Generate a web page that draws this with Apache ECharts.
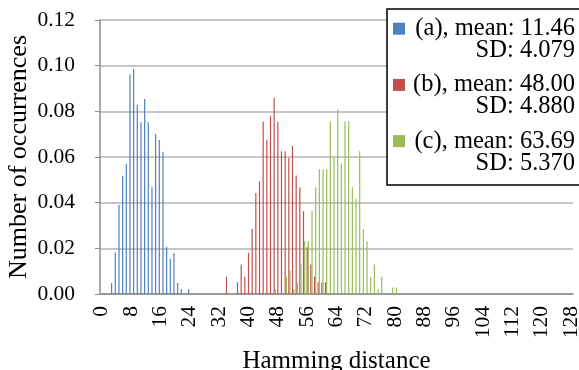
<!DOCTYPE html>
<html>
<head>
<meta charset="utf-8">
<script src="https://cdn.jsdelivr.net/npm/echarts@6/dist/echarts.min.js"></script>
<style>
	html, body { margin: 0; padding: 0; background: #fff; }
	#charts { width: 579px; height: 370px; }
</style>
</head>
<body>
<div id="charts"></div>
<script>
// hamming distance 0..128
var distances = [];
for (var d = 0; d <= 128; d++) distances.push(String(d));

// (a)
var aDist = [3, 4, 5, 6, 7, 8, 9, 10, 11, 12, 13, 14, 15, 16, 17, 18, 19, 20, 21, 22, 24];
var aFreq = [0.0048, 0.0182, 0.039, 0.0518, 0.0569, 0.0961, 0.0985, 0.0829, 0.0752, 0.0854, 0.0752,
	0.0467, 0.0701, 0.0674, 0.0623, 0.0207, 0.0153, 0.018, 0.0048, 0.0022, 0.0022];
// (b)
var bDist = [34, 37, 38, 39, 40, 41, 42, 43, 44, 45, 46, 47, 48, 49, 50, 51, 52, 53, 54, 55, 56, 57, 58, 59, 60, 61];
var bFreq = [0.0076, 0.0051, 0.0129, 0.0076, 0.018, 0.0285, 0.0442, 0.0493, 0.0756, 0.0676, 0.078, 0.0859,
	0.0753, 0.0625, 0.0625, 0.0597, 0.0648, 0.0519, 0.0468, 0.0363, 0.0205, 0.0129, 0.0076, 0.0051, 0.0051, 0.0051];
// (c)
var cDist = [47, 50, 51, 52, 53, 54, 55, 56, 57, 58, 59, 60, 61, 62, 63, 64, 65, 66, 67, 68, 69, 70, 71, 72,
	73, 74, 75, 76, 79, 80];
var cFreq = [0.0022, 0.0076, 0.0102, 0.0022, 0.0051, 0.0129, 0.0231, 0.0231, 0.0363, 0.0468, 0.0546, 0.0546,
	0.0546, 0.0756, 0.0597, 0.0808, 0.0571, 0.0756, 0.0756, 0.0468, 0.0417, 0.0625, 0.0285, 0.0231, 0.0076,
	0.0129, 0.0022, 0.0076, 0.0028, 0.0028];

var seriesNames = ['(a), mean: 11.46', '(b), mean: 48.00', '(c), mean: 63.69'];
var seriesSD = ['SD: 4.079', 'SD: 4.880', 'SD: 5.370'];
var seriesColors = ['#4F81BD', '#C0504D', '#9BBB59'];

var FONT = 'Liberation Serif';

var Histogram = {

	init: function () {
		this.chart = echarts.init(document.getElementById('charts'));
		this.render();
	},

	// turn the sparse lists into one value per distance
	toFull: function (dist, freq) {
		var out = [];
		for (var i = 0; i < distances.length; i++) out.push(0);
		for (var j = 0; j < dist.length; j++) out[dist[j]] = freq[j];
		return out;
	},

	// legend box drawn by hand (marker sits on the first line)
	legendGraphic: function () {
		var items = [{
			type: 'rect',
			shape: { x: 387, y: 9, width: 200, height: 176 },
			style: { fill: '#fff', stroke: '#000', lineWidth: 1.5 },
			z: 10
		}];
		for (var i = 0; i < seriesNames.length; i++) {
			var top = 22.7 + i * 56.2;
			items.push({
				type: 'rect',
				shape: { x: 393, y: top, width: 12, height: 12 },
				style: { fill: seriesColors[i] },
				z: 11
			});
			items.push({
				type: 'text',
				x: 575,
				y: top - 5,
				style: {
					text: seriesNames[i] + '\n' + seriesSD[i],
					textAlign: 'right',
					textVerticalAlign: 'top',
					font: '24.5px "' + FONT + '"',
					lineHeight: 22,
					fill: '#000'
				},
				z: 11
			});
		}
		return items;
	},

	render: function () {
		var data = [this.toFull(aDist, aFreq), this.toFull(bDist, bFreq), this.toFull(cDist, cFreq)];
		var series = [];
		for (var i = 0; i < data.length; i++) {
			series.push({
				name: seriesNames[i],
				type: 'bar',
				data: data[i],
				barWidth: 1.2,
				barGap: '0%',
				itemStyle: { color: seriesColors[i] },
				animation: false
			});
		}

		var option = {
			animation: false,
			grid: { left: 100, top: 20, width: 473, height: 274, outerBoundsMode: 'none', containLabel: false },
			xAxis: {
				type: 'category',
				data: distances,
				name: 'Hamming distance',
				nameLocation: 'middle',
				nameGap: 55,
				nameTextStyle: { fontFamily: FONT, fontSize: 25, color: '#000' },
				axisLine: { lineStyle: { color: '#8c8c8c', width: 1.5 } },
				axisTick: { interval: 0, length: 4, lineStyle: { color: '#8c8c8c' } },
				axisLabel: {
					interval: 7,
					rotate: 90,
					margin: 12,
					showMinLabel: true,
					showMaxLabel: true,
					hideOverlap: false,
					fontFamily: FONT,
					fontSize: 21.5,
					color: '#000'
				}
			},
			yAxis: {
				type: 'value',
				min: 0,
				max: 0.12,
				interval: 0.02,
				name: 'Number of occurrences',
				nameLocation: 'middle',
				nameGap: 68,
				nameMoveOverlap: false,
				nameTextStyle: { fontFamily: FONT, fontSize: 26, color: '#000' },
				axisLine: { show: true, lineStyle: { color: '#8c8c8c', width: 1.5 } },
				axisTick: { show: true, length: 5, lineStyle: { color: '#8c8c8c' } },
				axisLabel: {
					margin: 25,
					fontFamily: FONT,
					fontSize: 21.5,
					color: '#000',
					formatter: function (v) { return v.toFixed(2); }
				},
				splitLine: { lineStyle: { color: '#b4b4b4', width: 1.5 } }
			},
			series: series,
			graphic: this.legendGraphic()
		};

		this.chart.setOption(option);
	}
};

Histogram.init();
</script>
</body>
</html>
